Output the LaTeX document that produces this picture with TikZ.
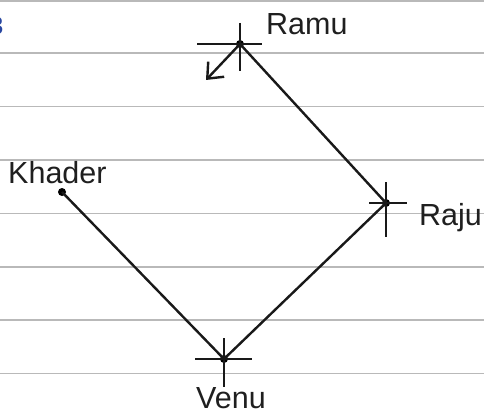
\documentclass[tikz,border=0pt]{standalone}
\usepackage{fontspec}
\setmainfont{Liberation Sans}
\usetikzlibrary{arrows.meta}
\definecolor{rulegray}{RGB}{185,185,185}
\definecolor{numblue}{RGB}{40,70,160}
\begin{document}
\begin{tikzpicture}[x=1pt,y=-1pt,
  rule/.style={rulegray,line width=1.6pt},
  path/.style={black!90,line width=2.4pt},
  crossline/.style={black!90,line width=2.2pt},
  lbl/.style={font=\fontsize{30.5}{30.5}\selectfont,inner sep=0pt,text=black!88},
  pt/.style={circle,fill=black,inner sep=0pt,minimum size=8pt}]
\useasboundingbox (0,0) rectangle (484,414);
\fill[white] (0,0) rectangle (484,414);
% ruled lines
\foreach \yy in {1,53.3,106.7,160,213.3,266.7,320,373.3}
  \draw[rule] (0,\yy) -- (484,\yy);
% partial number
\node[anchor=base east,inner sep=0pt,text=numblue,font=\fontsize{25}{25}\selectfont\bfseries] (num) at (3.5,35) {3};
% points
\node[pt] (ramu) at (240,44) {};
\node[pt] (raju) at (386,203) {};
\node[pt] (venu) at (224,359) {};
\node[pt] (khader) at (62,192) {};
\coordinate (tip) at (206,80);
% crosses
\draw[crossline] (197,44) -- (262,44);
\draw[crossline] (240,23) -- (240,71);
\draw[crossline] (369,203) -- (407,203);
\draw[crossline] (386,182) -- (386,237);
\draw[crossline] (195,359) -- (252,359);
\draw[crossline] (224,338) -- (224,387);
% path
\draw[path] (khader.center) -- (venu.center) -- (raju.center) -- (ramu.center);
\draw[path,-{Straight Barb[length=13pt,width=22pt,line width=2.4pt]}] (ramu.center) -- (tip);
% labels
\node[lbl,anchor=base west] (lramu) at (266,35) {Ramu};
\node[lbl,anchor=base west] (lraju) at (419,225) {Raju};
\node[lbl,anchor=base west] (lvenu) at (196,408) {Venu};
\node[lbl,anchor=base west] (lkhader) at (8,183) {Khader};
\end{tikzpicture}
\end{document}
